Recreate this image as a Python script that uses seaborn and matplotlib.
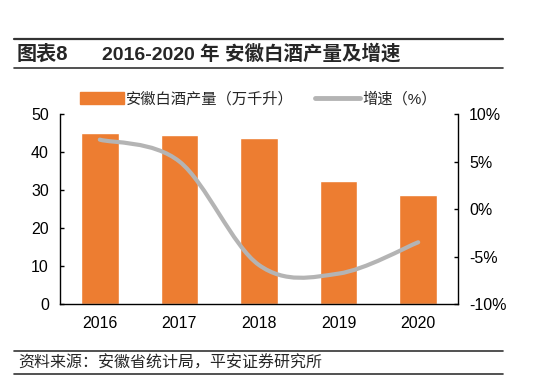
import matplotlib.pyplot as plt
import seaborn as sns
import numpy as np
import pandas as pd
from matplotlib.path import Path
from matplotlib.patches import PathPatch
from matplotlib.lines import Line2D
from matplotlib.ticker import FuncFormatter

# Données
annees = ['2016', '2017', '2018', '2019', '2020']
production = [45.1, 44.5, 43.6, 32.4, 28.7]   # 万千升
croissance = [7.3, 5.0, -5.9, -6.8, -3.5]     # %

orange = '#ED7D31'
gris = '#B4B4B4'
police = ['Liberation Sans', 'Noto Sans CJK SC', 'DejaVu Sans']

sns.set_style('white')
plt.rcParams['font.family'] = police
plt.rcParams['axes.unicode_minus'] = False

fig = plt.figure(figsize=(5.4, 3.87), dpi=100)
ax = fig.add_axes([60 / 540, 1 - 304 / 387, 398 / 540, 190 / 387])

df = pd.DataFrame({'annee': annees, 'production': production})
sns.barplot(data=df, x='annee', y='production', color=orange, width=0.47,
            saturation=1, ax=ax)
ax.set_xlim(-0.5, 4.5)
ax.set_ylim(0, 50)
ax.set_yticks(range(0, 51, 10))
ax.set_xlabel('')
ax.set_ylabel('')

ax2 = ax.twinx()
ax2.set_ylim(-10, 10)
ax2.set_yticks(range(-10, 11, 5))
ax2.yaxis.set_major_formatter(FuncFormatter(lambda v, p: f'{v:.0f}%'))

# courbe lissée (Catmull-Rom -> Bézier), comme Excel
x = np.arange(len(croissance), dtype=float)
y = np.array(croissance)
pts = np.column_stack([x, y])
verts = [pts[0]]
codes = [Path.MOVETO]
for i in range(len(pts) - 1):
    p0 = pts[i - 1] if i > 0 else pts[i]
    p1 = pts[i]
    p2 = pts[i + 1]
    p3 = pts[i + 2] if i + 2 < len(pts) else pts[i + 1]
    c1 = p1 + (p2 - p0) / 6
    c2 = p2 - (p3 - p1) / 6
    verts += [c1, c2, p2]
    codes += [Path.CURVE4] * 3
ax2.add_patch(PathPatch(Path(verts, codes), facecolor='none', edgecolor=gris,
                        lw=3, capstyle='round'))

for a in (ax, ax2):
    for s in a.spines.values():
        s.set_visible(False)
    a.tick_params(direction='in', length=3, width=1, labelsize=11.5, colors='black')
ax.spines['left'].set_visible(True)
ax.spines['bottom'].set_visible(True)
ax2.spines['right'].set_visible(True)
for s in (ax.spines['left'], ax.spines['bottom'], ax2.spines['right']):
    s.set_color('black')
    s.set_linewidth(1)
ax.set_xticks(np.arange(-0.5, 4.6, 1), minor=True)
ax.tick_params(axis='x', which='major', length=0, pad=9)
ax.tick_params(axis='x', which='minor', direction='in', length=3, width=1)
ax.tick_params(axis='y', pad=8)
ax2.tick_params(axis='y', pad=8)

poignees = [plt.Rectangle((0, 0), 1, 1, color=orange),
            Line2D([0], [0], color=gris, lw=3.5)]
fig.legend(poignees, ['安徽白酒产量（万千升）', '增速（%）'], loc='center',
           bbox_to_anchor=(258 / 540, 1 - 99 / 387), ncol=2, frameon=False,
           prop={'family': police, 'size': 11}, handlelength=2.9,
           handleheight=0.8, columnspacing=1.4, handletextpad=0.15)

# titre et source
fig.add_artist(Line2D([14 / 540, 503 / 540], [1 - 39 / 387] * 2, color='#333333', lw=1.6))
fig.add_artist(Line2D([14 / 540, 503 / 540], [1 - 68 / 387] * 2, color='#333333', lw=1.2))
fig.text(17 / 540, 1 - 54 / 387, '图表8', fontsize=14.5, fontweight='bold',
         va='center', family=police)
fig.text(102 / 540, 1 - 54 / 387, '2016-2020 年 安徽白酒产量及增速', fontsize=14,
         fontweight='bold', va='center', family=police)
fig.add_artist(Line2D([14 / 540, 503 / 540], [1 - 351 / 387] * 2, color='#333333', lw=1.2))
fig.add_artist(Line2D([14 / 540, 503 / 540], [1 - 374 / 387] * 2, color='#333333', lw=1.2))
fig.text(18 / 540, 1 - 363 / 387, '资料来源：安徽省统计局，平安证券研究所', fontsize=11.5,
         va='center', family=police, style='italic')

fig.savefig('out.png', dpi=100)
